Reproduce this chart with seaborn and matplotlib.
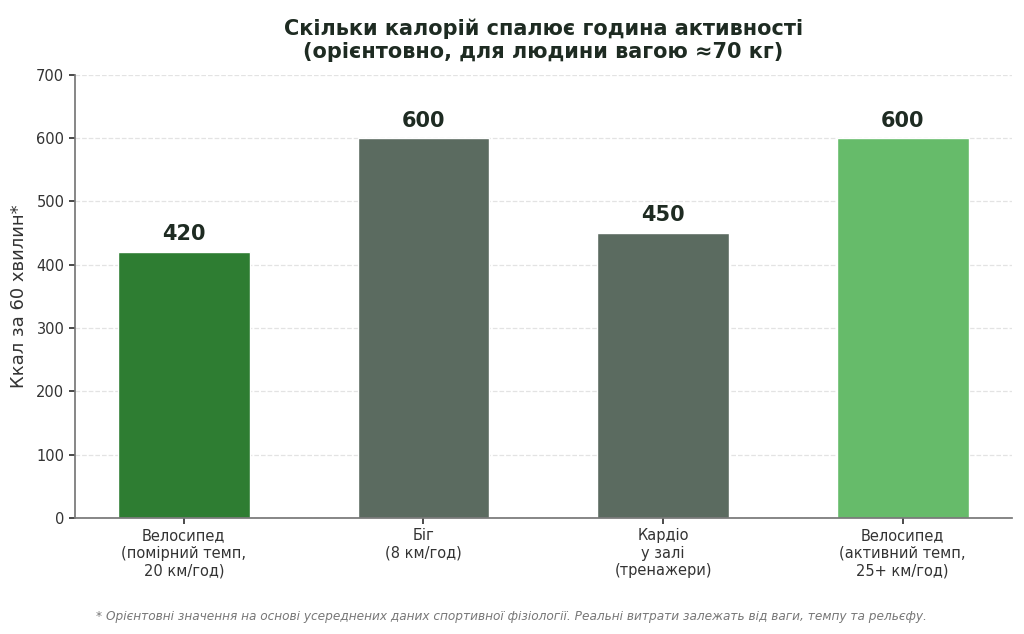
import matplotlib
matplotlib.use("Agg")
import matplotlib.pyplot as plt
import seaborn as sns
import pandas as pd

activities = [
    "Велосипед\n(помірний темп,\n20 км/год)",
    "Біг\n(8 км/год)",
    "Кардіо\nу залі\n(тренажери)",
    "Велосипед\n(активний темп,\n25+ км/год)",
]
kcal = [420, 600, 450, 600]
colors = ["#2e7d32", "#5b6b60", "#5b6b60", "#66bb6a"]

df = pd.DataFrame({"activity": activities, "kcal": kcal})

sns.set_theme(style="white")
plt.rcParams["font.family"] = ["DejaVu Sans"]

fig, ax = plt.subplots(figsize=(10.24, 6.34), dpi=100)
fig.subplots_adjust(left=0.073, right=0.988, top=0.882, bottom=0.183)

sns.barplot(data=df, x="activity", y="kcal", hue="activity", palette=colors,
            legend=False, width=0.55, ax=ax, saturation=1)

for i, v in enumerate(kcal):
    ax.text(i, v + 12, str(v), ha="center", va="bottom", fontsize=15,
            fontweight="bold", color="#1e2b22")

ax.set_ylim(0, 700)
ax.set_xlim(-0.455, 3.455)
ax.set_yticks(range(0, 701, 100))
ax.yaxis.grid(True, linestyle="--", color="#e3e3e3", linewidth=0.9)
ax.set_axisbelow(True)
ax.set_xlabel("")
ax.set_ylabel("Ккал за 60 хвилин*", fontsize=13, color="#333333", labelpad=6)
ax.tick_params(axis="both", labelsize=10.5, colors="#333333", length=4,
               left=True, bottom=True)
for s in ["top", "right"]:
    ax.spines[s].set_visible(False)
for s in ["left", "bottom"]:
    ax.spines[s].set_color("#777777")

ax.set_title("Скільки калорій спалює година активності\n(орієнтовно, для людини вагою ≈70 кг)",
             fontsize=15, fontweight="bold", color="#1e2b22", pad=12)

fig.text(0.499, 0.022,
         "* Орієнтовні значення на основі усереднених даних спортивної фізіології. "
         "Реальні витрати залежать від ваги, темпу та рельєфу.",
         ha="center", fontsize=8.7, style="italic", color="#777777")

fig.savefig("out.png", dpi=100)
